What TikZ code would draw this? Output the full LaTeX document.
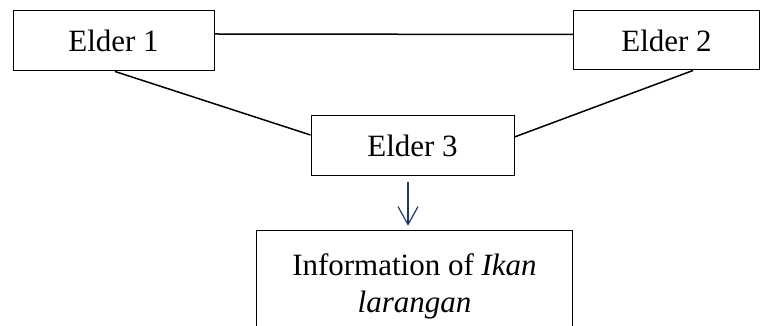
\documentclass[tikz,border=0pt]{standalone}
\usepackage{fontspec}
\setmainfont{Liberation Serif}
\usetikzlibrary{arrows.meta}
\definecolor{navy}{RGB}{31,56,100}
\begin{document}
\begin{tikzpicture}[x=1pt,y=1pt,
  box/.style={draw=black,line width=1pt,rectangle,inner sep=0pt,font=\fontsize{31}{37}\selectfont},
  link/.style={draw=black,line width=1.5pt},
  flow/.style={draw=navy,line width=1.2pt,-{Straight Barb[length=18pt,width=20pt,line width=1.2pt]}}]
\useasboundingbox (0,0) rectangle (760,326);
\clip (0,0) rectangle (760,326);
\node[box,minimum width=201pt,minimum height=60pt] (e1) at (113.5,285) {Elder 1};
\node[box,minimum width=186pt,minimum height=59pt] (e2) at (666.5,285.5) {Elder 2};
\node[box,minimum width=203pt,minimum height=60pt] (e3) at (412.5,180) {Elder 3};
\node[inner sep=0pt,minimum width=315pt,minimum height=110pt,align=center,font=\fontsize{31}{37}\selectfont] (info) at (414.5,40) {Information of \textit{Ikan}\\\textit{larangan}};
\draw[link] ([yshift=7pt]e1.east) -- ([yshift=6pt]e2.west);
\draw[link] ([xshift=1.5pt]e1.south) -- ([yshift=11pt]e3.west);
\draw[link] ([xshift=26.5pt]e2.south) -- ([yshift=9pt]e3.east);
\draw[flow] ([xshift=-4.5pt,yshift=-6pt]e3.south) -- ([xshift=-6.5pt,yshift=5pt]info.north);
\draw[line width=1pt] (info.south west) -- (info.north west) -- (info.north east) -- (info.south east);
\end{tikzpicture}
\end{document}
